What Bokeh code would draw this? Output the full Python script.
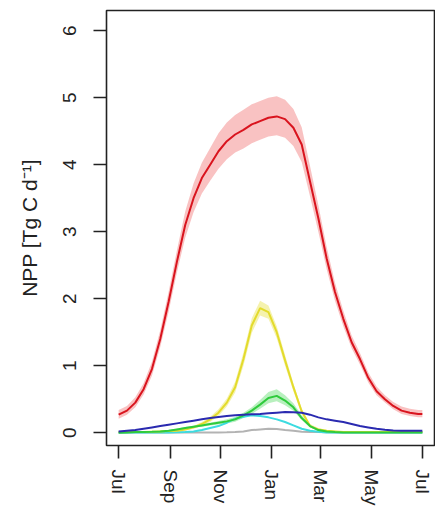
from bokeh.plotting import figure
from bokeh.models import FixedTicker, Range1d
from bokeh.embed import file_html
from bokeh.resources import INLINE

# Days since 1 July
days = [0, 10, 20, 30, 40, 50, 60, 70, 80, 90, 100, 110, 120, 130, 140, 150, 160, 170, 180,
        190, 200, 210, 220, 230, 240, 250, 260, 270, 280, 290, 300, 310, 320, 330, 340, 350, 360, 365]

red = [0.27, 0.33, 0.45, 0.65, 0.95, 1.4, 1.95, 2.55, 3.1, 3.5, 3.8, 4.0, 4.2, 4.35, 4.45, 4.52, 4.6, 4.65, 4.7,
       4.72, 4.68, 4.55, 4.3, 3.75, 3.2, 2.6, 2.1, 1.7, 1.35, 1.1, 0.82, 0.62, 0.5, 0.4, 0.33, 0.3, 0.28, 0.28]
red_hi = [0.34, 0.4, 0.53, 0.74, 1.06, 1.53, 2.1, 2.72, 3.3, 3.72, 4.03, 4.25, 4.47, 4.63, 4.74, 4.82, 4.9, 4.95, 5.0,
          5.02, 4.97, 4.83, 4.56, 3.98, 3.4, 2.77, 2.24, 1.82, 1.45, 1.19, 0.9, 0.69, 0.56, 0.46, 0.39, 0.36, 0.34, 0.34]
red_lo = [0.21, 0.27, 0.38, 0.57, 0.85, 1.28, 1.8, 2.39, 2.91, 3.29, 3.57, 3.76, 3.94, 4.08, 4.18, 4.24, 4.32, 4.37, 4.42,
          4.44, 4.4, 4.28, 4.04, 3.53, 3.0, 2.44, 1.97, 1.59, 1.26, 1.02, 0.75, 0.56, 0.45, 0.35, 0.28, 0.25, 0.23, 0.23]

yellow = [0.01, 0.01, 0.01, 0.01, 0.015, 0.02, 0.025, 0.03, 0.05, 0.08, 0.13, 0.2, 0.3, 0.45, 0.68, 1.1, 1.6, 1.86, 1.8,
          1.5, 1.08, 0.68, 0.32, 0.1, 0.05, 0.03, 0.02, 0.01, 0.01, 0.01, 0.01, 0.01, 0.01, 0.01, 0.01, 0.01, 0.01, 0.01]
yellow_hi = [0.02, 0.02, 0.02, 0.02, 0.025, 0.03, 0.035, 0.045, 0.065, 0.1, 0.16, 0.24, 0.35, 0.51, 0.76, 1.2, 1.71, 1.97, 1.9,
             1.59, 1.16, 0.74, 0.36, 0.13, 0.07, 0.04, 0.03, 0.02, 0.02, 0.02, 0.02, 0.02, 0.02, 0.02, 0.02, 0.02, 0.02, 0.02]
yellow_lo = [0.0, 0.0, 0.0, 0.0, 0.005, 0.01, 0.015, 0.02, 0.035, 0.06, 0.1, 0.16, 0.25, 0.39, 0.6, 1.0, 1.49, 1.75, 1.7,
             1.41, 1.0, 0.62, 0.28, 0.08, 0.03, 0.02, 0.01, 0.0, 0.0, 0.0, 0.0, 0.0, 0.0, 0.0, 0.0, 0.0, 0.0, 0.0]

green = [0.0, 0.005, 0.01, 0.012, 0.015, 0.02, 0.03, 0.05, 0.07, 0.09, 0.11, 0.13, 0.15, 0.17, 0.2, 0.26, 0.33, 0.42, 0.52,
         0.55, 0.48, 0.38, 0.22, 0.1, 0.04, 0.02, 0.01, 0.005, 0.005, 0.005, 0.005, 0.005, 0.005, 0.005, 0.005, 0.005, 0.005, 0.005]
green_hi = [0.005, 0.01, 0.015, 0.018, 0.022, 0.03, 0.04, 0.06, 0.085, 0.105, 0.13, 0.15, 0.175, 0.2, 0.235, 0.3, 0.38, 0.49, 0.61,
            0.65, 0.56, 0.44, 0.26, 0.12, 0.05, 0.025, 0.015, 0.01, 0.01, 0.01, 0.01, 0.01, 0.01, 0.01, 0.01, 0.01, 0.01, 0.01]
green_lo = [0.0, 0.0, 0.005, 0.006, 0.008, 0.01, 0.02, 0.04, 0.055, 0.075, 0.09, 0.11, 0.125, 0.14, 0.165, 0.22, 0.28, 0.36, 0.44,
            0.47, 0.41, 0.33, 0.19, 0.08, 0.03, 0.015, 0.005, 0.0, 0.0, 0.0, 0.0, 0.0, 0.0, 0.0, 0.0, 0.0, 0.0, 0.0]

cyan = [0.005, 0.005, 0.005, 0.005, 0.005, 0.005, 0.005, 0.006, 0.01, 0.02, 0.04, 0.07, 0.1, 0.15, 0.21, 0.24, 0.26, 0.25, 0.23,
        0.2, 0.16, 0.11, 0.06, 0.03, 0.015, 0.005, 0.005, 0.005, 0.005, 0.005, 0.005, 0.005, 0.005, 0.005, 0.005, 0.005, 0.005, 0.005]

blue = [0.02, 0.03, 0.04, 0.06, 0.08, 0.1, 0.12, 0.14, 0.16, 0.18, 0.2, 0.22, 0.235, 0.25, 0.26, 0.27, 0.275, 0.28, 0.29,
        0.3, 0.31, 0.305, 0.3, 0.27, 0.23, 0.2, 0.18, 0.16, 0.13, 0.1, 0.08, 0.06, 0.045, 0.035, 0.03, 0.03, 0.03, 0.03]

gray = [0.005, 0.005, 0.005, 0.005, 0.005, 0.005, 0.005, 0.005, 0.005, 0.005, 0.005, 0.005, 0.005, 0.008, 0.012, 0.02, 0.04, 0.05, 0.06,
        0.055, 0.04, 0.03, 0.015, 0.01, 0.01, 0.008, 0.005, 0.005, 0.005, 0.005, 0.005, 0.005, 0.005, 0.005, 0.005, 0.005, 0.005, 0.005]

month_ticks = [0, 62, 123, 184, 243, 304, 365]
month_labels = ["Jul", "Sep", "Nov", "Jan", "Mar", "May", "Jul"]
y_ticks = [0, 1, 2, 3, 4, 5, 6]

FONT = "Liberation Sans"

p = figure(width=435, height=514, output_backend="svg", toolbar_location=None,
           x_range=Range1d(-14.6, 379.6), y_range=Range1d(-0.19, 6.3),
           min_border_left=106, min_border_right=1, min_border_top=10, min_border_bottom=69)

p.xgrid.visible = False
p.ygrid.visible = False
p.outline_line_color = "#222222"
p.outline_line_width = 1.6
p.outline_line_alpha = 1.0

# bands
p.varea(x=days, y1=red_lo, y2=red_hi, fill_color="#f7a8a8", fill_alpha=0.7)
p.varea(x=days, y1=yellow_lo, y2=yellow_hi, fill_color="#f2ef9a", fill_alpha=0.8)
p.varea(x=days, y1=green_lo, y2=green_hi, fill_color="#a6ecae", fill_alpha=0.8)

# lines
p.line(days, gray, line_color="#b3b3b3", line_width=2)
p.line(days, cyan, line_color="#3ddbe0", line_width=2)
p.line(days, yellow, line_color="#e3db2c", line_width=2)
p.line(days, green, line_color="#2fcb3c", line_width=2)
p.line(days, blue, line_color="#2a2ab0", line_width=2)
p.line(days, red, line_color="#d9141e", line_width=2)

# x axis
xa = p.xaxis[0]
xa.ticker = FixedTicker(ticks=month_ticks)
xa.major_label_overrides = {t: l for t, l in zip(month_ticks, month_labels)}
xa.major_label_orientation = "vertical"
xa.axis_line_color = None
xa.minor_tick_line_color = None
xa.major_tick_in = 0
xa.major_tick_out = 13
xa.major_tick_line_width = 1.6
xa.major_tick_line_color = "#222222"
xa.major_label_text_font = FONT
xa.major_label_text_font_size = "19px"
xa.major_label_text_color = "#222222"
xa.major_label_standoff = 11

# y axis
ya = p.yaxis[0]
ya.ticker = FixedTicker(ticks=y_ticks)
ya.major_label_orientation = "vertical"
ya.axis_line_color = None
ya.minor_tick_line_color = None
ya.major_tick_in = 0
ya.major_tick_out = 13
ya.major_tick_line_width = 1.6
ya.major_tick_line_color = "#222222"
ya.major_label_text_font = FONT
ya.major_label_text_font_size = "19px"
ya.major_label_text_color = "#222222"
ya.major_label_standoff = 17
ya.axis_label = "NPP [Tg C d\u207b\u00b9]"
ya.axis_label_text_font = FONT
ya.axis_label_text_font_style = "normal"
ya.axis_label_text_font_size = "21px"
ya.axis_label_text_color = "#222222"
ya.axis_label_standoff = 20

open("out.html", "w").write(file_html(p, INLINE))
